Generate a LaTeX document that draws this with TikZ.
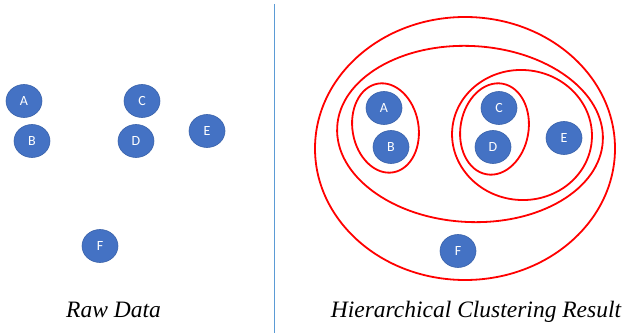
\documentclass[tikz,border=0pt]{standalone}
\usepackage{fontspec}
\setmainfont{Liberation Serif}
\newfontfamily\calib{Carlito}
\usetikzlibrary{shapes.geometric}
\definecolor{ptblue}{HTML}{4472C4}
\definecolor{ptedge}{HTML}{3A62AA}
\definecolor{divblue}{HTML}{5B9BD5}
\begin{document}
\begin{tikzpicture}[x=1pt,y=-1pt,
  ptnode/.style={ellipse,fill=ptblue,draw=ptedge,line width=0.6pt,minimum width=36pt,minimum height=33pt,inner sep=0pt,text=white,font=\calib\fontsize{14}{16}\selectfont},
  clus/.style={draw=red,line width=1.8pt},
  captxt/.style={font=\itshape\fontsize{23.5}{27}\selectfont,anchor=base}]
\useasboundingbox (0,0) rectangle (623,336);
% divider
\draw[divblue,line width=1pt] (274,4) coordinate (d1) -- (274,333) coordinate (d2);
% raw data
\node[ptnode] (A1) at (24,101) {A};
\node[ptnode] (B1) at (32,141) {B};
\node[ptnode] (C1) at (142,101) {C};
\node[ptnode] (D1) at (136,141) {D};
\node[ptnode] (E1) at (207,131) {E};
\node[ptnode] (F1) at (100,246) {F};
% clustering
\draw[clus] (465,148.5) ellipse [x radius=150,y radius=131.5];
\draw[clus,rotate around={-3:(470,134)}] (470,134) ellipse [x radius=133,y radius=88];
\draw[clus,rotate around={10:(385.5,128)}] (385.5,128) ellipse [x radius=33,y radius=45];
\draw[clus,rotate around={-10:(494.5,129)}] (494.5,129) ellipse [x radius=34,y radius=46];
\draw[clus,rotate around={-5:(522,135)}] (522,135) ellipse [x radius=70,y radius=65];
\node[ptnode] (A2) at (384,108) {A};
\node[ptnode] (B2) at (391,147) {B};
\node[ptnode] (C2) at (499,108) {C};
\node[ptnode] (D2) at (493,147) {D};
\node[ptnode] (E2) at (564,138) {E};
\node[ptnode] (F2) at (458,251) {F};
% captions
\node[captxt] (t1) at (113.5,317) {Raw Data};
\node[captxt] (t2) at (476,317) {Hierarchical Clustering Result};
\end{tikzpicture}
\end{document}
